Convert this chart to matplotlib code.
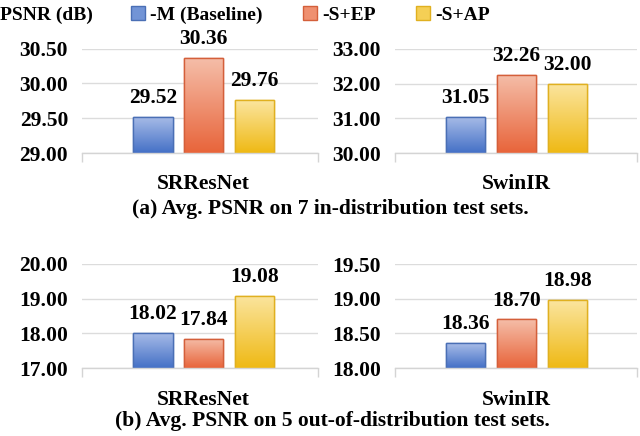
import matplotlib
matplotlib.use("Agg")
import matplotlib.pyplot as plt
import numpy as np
from matplotlib.patches import Patch
from matplotlib.colors import LinearSegmentedColormap

plt.rcParams['font.family'] = ['Liberation Serif', 'DejaVu Serif']
plt.rcParams['font.weight'] = 'bold'

series = ["-M (Baseline)", "-S+EP", "-S+AP"]
models = ["SRResNet", "SwinIR"]
in_dist = {"SRResNet": [29.52, 30.36, 29.76], "SwinIR": [31.05, 32.26, 32.00]}
out_dist = {"SRResNet": [18.02, 17.84, 19.08], "SwinIR": [18.36, 18.70, 18.98]}
yticks_in = {"SRResNet": [29.00, 29.50, 30.00, 30.50], "SwinIR": [30.00, 31.00, 32.00, 33.00]}
yticks_out = {"SRResNet": [17.00, 18.00, 19.00, 20.00], "SwinIR": [18.00, 18.50, 19.00, 19.50]}
captions = ["(a) Avg. PSNR on 7 in-distribution test sets.",
            "(b) Avg. PSNR on 5 out-of-distribution test sets."]

top_cols = ["#a9bde8", "#f5bea9", "#fbe59f"]
bot_cols = ["#4470c6", "#e8643a", "#efb914"]
mid_cols = ["#7294d6", "#ef9070", "#f5cf55"]
edge_cols = ["#4a6fb5", "#d45f3a", "#e0b020"]

W, H = 640, 436
fig = plt.figure(figsize=(W / 100, H / 100), dpi=100)
FS = 15.5
LFS = 14

def rect(l, r, t, b):
    return [l / W, 1 - b / H, (r - l) / W, (b - t) / H]

panels = [
    (in_dist["SRResNet"], yticks_in["SRResNet"], models[0], rect(82, 318, 48.5, 153), (-1.39, 3.25), 15),
    (in_dist["SwinIR"], yticks_in["SwinIR"], models[1], rect(395, 637, 49, 153), (-1.38, 3.36), 15),
    (out_dist["SRResNet"], yticks_out["SRResNet"], models[0], rect(82, 318, 264, 368), (-1.39, 3.25), 16),
    (out_dist["SwinIR"], yticks_out["SwinIR"], models[1], rect(395, 637, 264, 368), (-1.38, 3.36), 16),
]

for vals, yt, name, r, xl, pad in panels:
    ax = fig.add_axes(r)
    x = np.arange(len(vals))
    bars = ax.bar(x, vals, width=0.78, color=mid_cols, edgecolor=edge_cols, linewidth=1.0, zorder=3)
    ylo, yhi = yt[0], yt[-1]
    ax.set_ylim(ylo, yhi)
    ax.set_xlim(*xl)
    for i, b in enumerate(bars):
        cmap = LinearSegmentedColormap.from_list("g", [bot_cols[i], top_cols[i]])
        grad = np.linspace(0, 1, 256).reshape(-1, 1)
        bx, bw, bh = b.get_x(), b.get_width(), b.get_height()
        im = ax.imshow(grad, cmap=cmap, origin='lower', aspect='auto',
                       extent=[bx, bx + bw, ylo, bh], zorder=3.5, interpolation='bilinear')
        im.set_clip_path(b)
        ax.bar(bx + bw / 2, bh, width=bw, color='none', edgecolor=edge_cols[i], linewidth=1.0, zorder=4)
        ax.annotate(f"{vals[i]:.2f}", (bx + bw / 2, bh), xytext=(0, 10), textcoords='offset points',
                    ha='center', va='baseline', fontsize=FS, fontweight='bold', color='black',
                    annotation_clip=False, zorder=5)
    ax.set_xlim(*xl)
    ax.set_ylim(ylo, yhi)
    ax.set_yticks(yt)
    ax.set_yticklabels([f"{v:.2f}" for v in yt], fontsize=FS, fontweight='bold')
    ax.set_xticks([1])
    ax.set_xticklabels([name], fontsize=FS, fontweight='bold')
    ax.set_xticks(list(xl), minor=True)
    ax.tick_params(axis='x', which='major', length=0, pad=pad)
    ax.tick_params(axis='x', which='minor', length=6.5, width=1.0, color='#d4d4d4', direction='out')
    ax.tick_params(axis='y', length=0, pad=10)
    ax.grid(axis='y', color='#dcdcdc', linewidth=1.0, zorder=0)
    ax.set_axisbelow(True)
    for s in ['top', 'right', 'left']:
        ax.spines[s].set_visible(False)
    ax.spines['bottom'].set_color('#d4d4d4')
    ax.spines['bottom'].set_linewidth(1.0)
    ax.spines['bottom'].set_zorder(6)

fig.text(330 / W, 1 - 209 / H, captions[0], ha='center', va='center', fontsize=FS, fontweight='bold')
fig.text(332 / W, 1 - 421 / H, captions[1], ha='center', va='center', fontsize=FS, fontweight='bold')
fig.text(0 / W, 1 - 15 / H, "PSNR (dB)", ha='left', va='center', fontsize=LFS, fontweight='bold')

handles = [Patch(facecolor=mid_cols[i], edgecolor=edge_cols[i], label=series[i]) for i in range(3)]
fig.legend(handles=handles, loc='center left', bbox_to_anchor=(131 / W, 1 - 15 / H), ncol=3,
           frameon=False, handlelength=0.72, handleheight=0.72, handletextpad=0.25,
           columnspacing=2.1, borderpad=0, borderaxespad=0, prop={'weight': 'bold', 'size': LFS})

fig.savefig("out.png", dpi=100)
